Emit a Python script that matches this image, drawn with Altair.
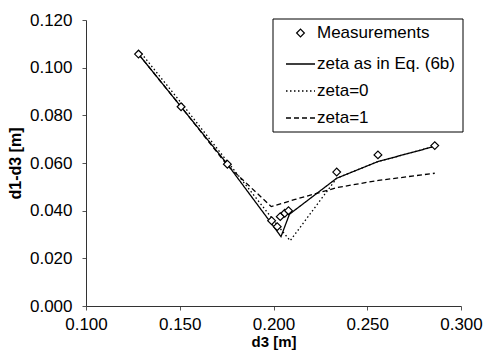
import altair as alt
import pandas as pd

# ---- data ----
series_names = ["Measurements", "zeta as in Eq. (6b)", "zeta=0", "zeta=1"]

meas_x = [0.128, 0.1507, 0.1754, 0.199, 0.202, 0.2036, 0.206, 0.208, 0.2337, 0.2557, 0.286]
meas_y = [0.1057, 0.0836, 0.0595, 0.0358, 0.0333, 0.0375, 0.0389, 0.0400, 0.0562, 0.0634, 0.0673]

eq6b_x = [0.128, 0.1507, 0.1754, 0.199, 0.204, 0.2085, 0.2337, 0.2557, 0.286]
eq6b_y = [0.1057, 0.0836, 0.0595, 0.0345, 0.0291, 0.0385, 0.0536, 0.0606, 0.0670]

z0_x = [0.1295, 0.152, 0.176, 0.2015, 0.2089, 0.2337, 0.2557, 0.286]
z0_y = [0.1060, 0.0840, 0.0600, 0.0345, 0.0274, 0.0536, 0.0606, 0.0670]

z1_x = [0.128, 0.1507, 0.1754, 0.1988, 0.2115, 0.234, 0.256, 0.286]
z1_y = [0.1057, 0.0836, 0.0590, 0.0417, 0.0447, 0.0497, 0.0527, 0.0557]

x_ticks = [0.100, 0.150, 0.200, 0.250, 0.300]
y_ticks = [0.000, 0.020, 0.040, 0.060, 0.080, 0.100, 0.120]

# ---- styles ----
FONT = "Liberation Sans"
dash_styles = [[1, 0], [1, 0], [1.5, 2.5], [5, 3]]

# ---- tables ----
rows = []
for name, xs, ys in [(series_names[1], eq6b_x, eq6b_y),
                     (series_names[2], z0_x, z0_y),
                     (series_names[3], z1_x, z1_y)]:
    for i, (a, b) in enumerate(zip(xs, ys)):
        rows.append({"d3": a, "dd": b, "series": name, "order": i})
lines_df = pd.DataFrame(rows)
meas_df = pd.DataFrame({"d3": meas_x, "dd": meas_y, "series": series_names[0]})

xscale = alt.Scale(domain=[0.1, 0.3], nice=False, zero=False)
yscale = alt.Scale(domain=[0.0, 0.12], nice=False, zero=False)
dash_scale = alt.Scale(domain=series_names, range=dash_styles)

xaxis = alt.Axis(values=x_ticks, format=".3f", title="d3 [m]", grid=False,
                 labelFont=FONT, labelFontSize=17, labelColor="black",
                 titleFont=FONT, titleFontSize=15, titleFontWeight="bold", titleColor="black",
                 domainColor="#333", tickColor="#555", tickSize=4, labelPadding=6,
                 titlePadding=2, labelFlush=False)
yaxis = alt.Axis(values=y_ticks, format=".3f", title="d1-d3 [m]", grid=False,
                 labelFont=FONT, labelFontSize=17, labelColor="black",
                 titleFont=FONT, titleFontSize=16, titleFontWeight="bold", titleColor="black",
                 domainColor="#333", tickColor="#555", tickSize=4, labelPadding=10,
                 titlePadding=6, labelFlush=False)

lines = alt.Chart(lines_df).mark_line(color="black", strokeWidth=1.3).encode(
    x=alt.X("d3:Q", scale=xscale, axis=xaxis),
    y=alt.Y("dd:Q", scale=yscale, axis=yaxis),
    detail="series:N",
    order="order:Q",
    strokeDash=alt.StrokeDash("series:N", scale=dash_scale, legend=None),
)

points = alt.Chart(meas_df).mark_point(
    shape="diamond", filled=False, fill="white", color="black",
    strokeWidth=1.2, size=60, opacity=1
).encode(
    x=alt.X("d3:Q", scale=xscale),
    y=alt.Y("dd:Q", scale=yscale),
)

# ---- legend box (drawn as decoration, pixel positions relative to plot area) ----
LX0, LX1, LY0, LY1 = 187, 377, -1, 112
SYM0, SYM1, TXT = 200, 229, 231
ROW_Y = [13, 44, 71, 98]

legend_layers = [
    alt.Chart(pd.DataFrame({"k": [0]})).mark_rect(
        fill="white", stroke="black", strokeWidth=1
    ).encode(x=alt.value(LX0), x2=alt.value(LX1), y=alt.value(LY0), y2=alt.value(LY1))
]
for i, name in enumerate(series_names):
    one = pd.DataFrame({"label": [name]})
    if i == 0:
        legend_layers.append(
            alt.Chart(one).mark_point(shape="diamond", filled=False, fill="white",
                                      color="black", strokeWidth=1.2, size=60, opacity=1)
            .encode(x=alt.value((SYM0 + SYM1) / 2), y=alt.value(ROW_Y[i]))
        )
    else:
        legend_layers.append(
            alt.Chart(one).mark_rule(color="black", strokeWidth=1.3,
                                     strokeDash=dash_styles[i])
            .encode(x=alt.value(SYM0), x2=alt.value(SYM1), y=alt.value(ROW_Y[i]))
        )
    legend_layers.append(
        alt.Chart(one).mark_text(align="left", baseline="middle", font=FONT,
                                 fontSize=17, color="black")
        .encode(x=alt.value(TXT), y=alt.value(ROW_Y[i]), text="label:N")
    )

chart = alt.layer(lines, points, *legend_layers).properties(
    width=375, height=286,
    autosize=alt.AutoSizeParams(type="none"),
    padding={"left": 78, "top": 12, "right": 22, "bottom": 44},
    background="white",
).configure_view(stroke=None)

chart.save("out.html", embed_options={"renderer": "svg", "actions": False})
